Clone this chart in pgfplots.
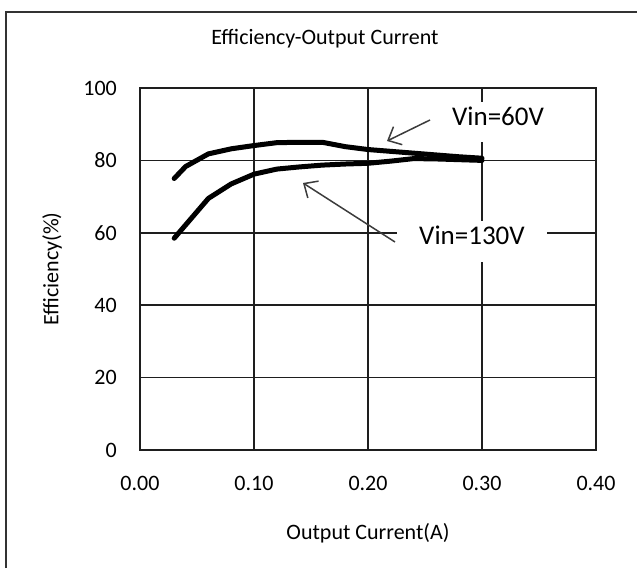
\documentclass[border=0pt]{standalone}
\usepackage{pgfplots}
\pgfplotsset{compat=1.18}
\usepackage{fontspec}
\setmainfont{Carlito}
\usetikzlibrary{arrows.meta}
\definecolor{gridc}{RGB}{30,30,30}
\definecolor{arrc}{RGB}{60,60,60}
\begin{document}
\begin{tikzpicture}[x=1pt,y=1pt]
\useasboundingbox (0,0) rectangle (637,568);
% chart area frame (right and bottom edges fall outside the picture)
\draw[line width=2pt, black!80] (6,0) -- (6,556) -- (637,556);
\begin{axis}[
  at={(140pt,118pt)}, anchor=south west,
  scale only axis, width=456pt, height=362pt,
  xmin=0, xmax=0.4, ymin=0, ymax=100,
  xtick={0,0.1,0.2,0.3,0.4}, ytick={0,20,40,60,80,100},
  major tick length=0pt,
  grid=major,
  major grid style={line width=1.5pt, gridc},
  axis line style={line width=1.5pt, gridc},
  font=\fontsize{22}{26}\selectfont,
  /pgf/number format/assume math mode=true,
  xticklabel style={/pgf/number format/fixed, /pgf/number format/fixed zerofill, /pgf/number format/precision=2, inner sep=0pt, anchor=north},
  yticklabel style={/pgf/number format/fixed, /pgf/number format/precision=0, inner sep=0pt, anchor=east},
  xticklabel shift=26pt,
  yticklabel shift=23pt,
  title={Efficiency-Output Current},
  title style={at={(axis description cs:0.4057,1.119)}, anchor=center, font=\fontsize{22}{26}\selectfont},
  xlabel={Output Current(A)},
  xlabel style={at={(axis description cs:0.5,-0.2293)}, anchor=center},
  ylabel={Efficiency(\%)},
  ylabel style={at={(axis description cs:-0.193,0.5)}, anchor=center},
  clip=false,
]
\addplot[black, line width=5pt, line cap=round, line join=round] coordinates {
  (0.03,75.0) (0.04,78.3) (0.06,81.8) (0.08,83.2) (0.10,84.1) (0.12,84.9)
  (0.14,85.0) (0.16,85.0) (0.18,83.8) (0.20,83.0) (0.22,82.5) (0.24,82.0)
  (0.26,81.5) (0.28,81.0) (0.30,80.6)
};
\addplot[black, line width=5pt, line cap=round, line join=round] coordinates {
  (0.03,58.5) (0.06,69.5) (0.08,73.5) (0.10,76.2) (0.12,77.6) (0.14,78.2)
  (0.16,78.7) (0.18,79.0) (0.20,79.2) (0.22,79.8) (0.24,80.5) (0.26,80.4)
  (0.28,80.2) (0.30,80.0)
};
\end{axis}
% data labels with white boxes
\node[fill=white, inner xsep=22pt, inner ysep=17pt, text height=0.65em, text depth=0pt,
      font=\fontsize{27}{32}\selectfont] at (498,446) {Vin=60V};
\node[fill=white, inner xsep=22.5pt, inner ysep=17.5pt, text height=0.65em, text depth=0pt,
      font=\fontsize{27}{32}\selectfont] at (472,326.5) {Vin=130V};
\draw[line width=1.5pt, arrc, -{Straight Barb[length=11pt,width=20pt]}] (430,448) -- (387,427);
\draw[line width=1.5pt, arrc, -{Straight Barb[length=11pt,width=20pt]}] (395,326) -- (303,385);
\end{tikzpicture}
\end{document}
